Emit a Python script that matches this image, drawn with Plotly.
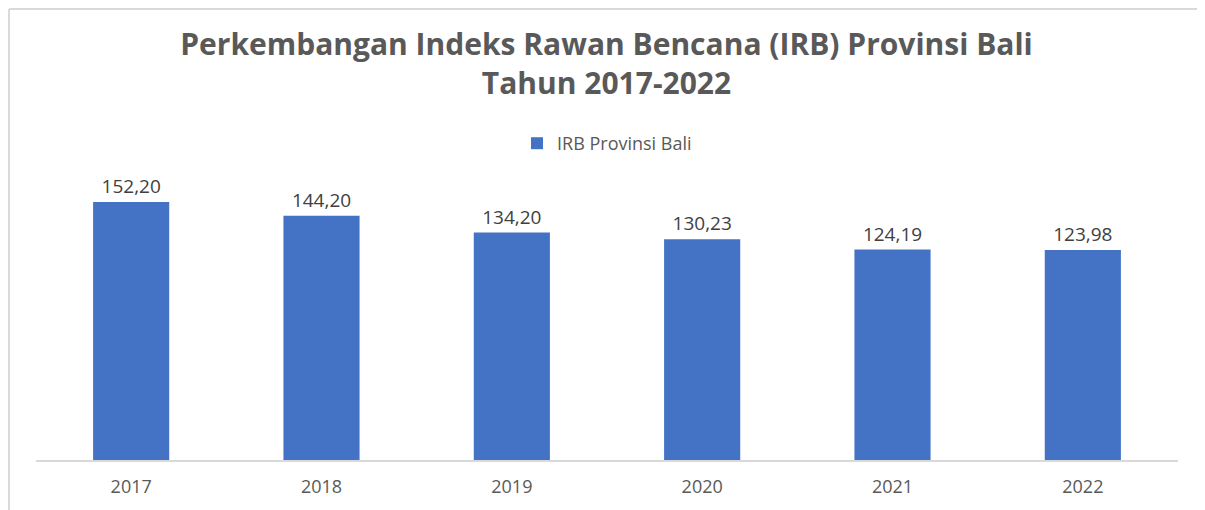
import plotly.graph_objects as go

years = ["2017", "2018", "2019", "2020", "2021", "2022"]
irb_values = [152.20, 144.20, 134.20, 130.23, 124.19, 123.98]
series_name = "IRB Provinsi Bali"
title_lines = ["Perkembangan Indeks Rawan Bencana (IRB) Provinsi Bali", "Tahun 2017-2022"]

BAR_COLOR = "#4472C4"
GREY_TEXT = "#595959"
FRAME = dict(color="#D9D9D9", width=2)

fig = go.Figure()

fig.add_trace(
    go.Bar(
        x=years,
        y=irb_values,
        name=series_name,
        marker_color=BAR_COLOR,
        marker_line_width=0,
        width=0.4,
        texttemplate="%{y:.2f}",
        textposition="outside",
        textfont=dict(size=19, color="#404040"),
        cliponaxis=False,
        showlegend=True,
    )
)

# page body keeps an 8px margin, so the figure is sized to fit the window
fig.update_layout(
    width=1197,
    height=502,
    separators=",.",
    title=dict(
        text="<b>" + "<br>".join(title_lines) + "</b>",
        x=0.5,
        xanchor="center",
        y=0.906,
        yanchor="top",
        font=dict(family="Open Sans, sans-serif", size=30, color=GREY_TEXT),
    ),
    legend=dict(
        orientation="h",
        x=0.5,
        xanchor="center",
        y=0.977,
        yanchor="bottom",
        font=dict(size=18, color=GREY_TEXT),
        itemwidth=30,
    ),
    margin=dict(l=28, r=27, t=147, b=50),
    paper_bgcolor="white",
    plot_bgcolor="white",
    font=dict(family="Open Sans, sans-serif", color=GREY_TEXT),
    shapes=[
        # light frame (top and left edges) like the source screenshot
        dict(type="line", xref="paper", yref="paper",
             x0=-0.0236, x1=1.1, y0=1.479, y1=1.479, line=FRAME, layer="below"),
        dict(type="line", xref="paper", yref="paper",
             x0=-0.0236, x1=-0.0236, y0=-0.3, y1=1.479, line=FRAME, layer="below"),
    ],
)

fig.update_xaxes(
    showline=True,
    linecolor="#D9D9D9",
    linewidth=1.5,
    showgrid=False,
    ticks="",
    ticklabelstandoff=10,
    tickfont=dict(size=18, color=GREY_TEXT),
)
fig.update_yaxes(
    range=[0, 180],
    visible=False,
    showgrid=False,
    zeroline=False,
)

fig.write_html("out.html")
